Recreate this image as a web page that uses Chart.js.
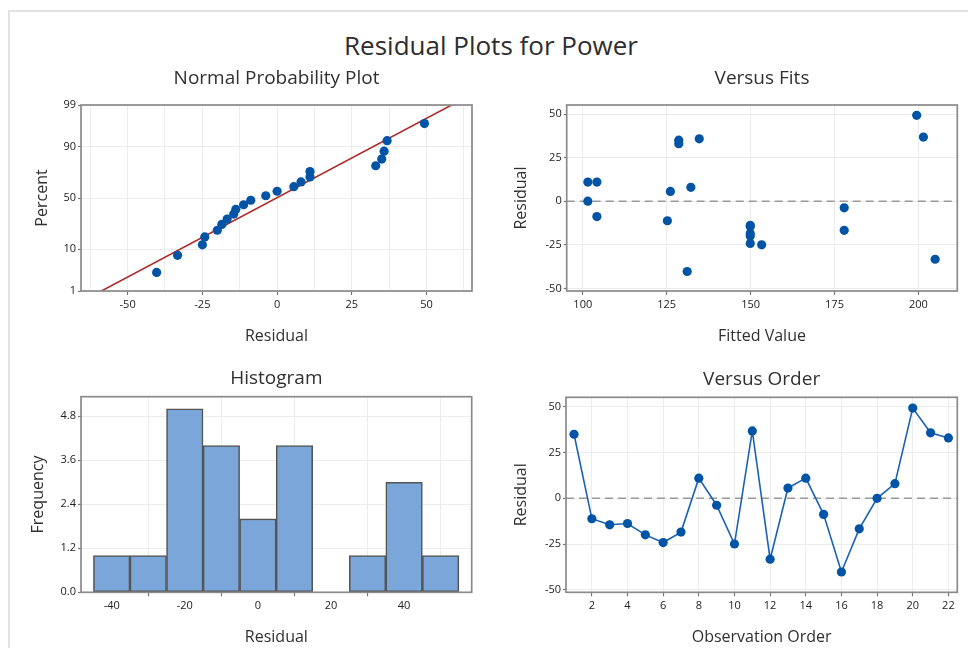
<!DOCTYPE html>
<html>
<head>
<meta charset="utf-8">
<title>Residual Plots for Power</title>
<script src="https://cdn.jsdelivr.net/npm/chart.js@4.4.1/dist/chart.umd.min.js"></script>
<style>
  html, body { margin: 0; padding: 0; background: #fff; }
  body { width: 968px; height: 648px; position: relative; overflow: hidden; font-family: "Open Sans", "Noto Sans", sans-serif; }
  #frame { position: absolute; left: 8px; top: 10px; width: 1200px; height: 900px; border: 2px solid #e2e2e2; box-sizing: border-box; }
  #mainTitle { position: absolute; left: 0; top: 27px; width: 982px; text-align: center; font-size: 26px; line-height: 36px; color: #2e2e2e; }
  canvas { position: absolute; }
</style>
</head>
<body>
<div id="frame"></div>
<div id="mainTitle">Residual Plots for Power</div>
<canvas id="npp" width="484" height="310" style="left:0px;top:50px;width:484px;height:310px"></canvas>
<canvas id="fits" width="484" height="310" style="left:484px;top:50px;width:484px;height:310px"></canvas>
<canvas id="hist" width="484" height="298" style="left:0px;top:350px;width:484px;height:298px"></canvas>
<canvas id="order" width="484" height="298" style="left:484px;top:350px;width:484px;height:298px"></canvas>
<script>
// ---- data ----
const observationOrder = [1, 2, 3, 4, 5, 6, 7, 8, 9, 10, 11, 12, 13, 14, 15, 16, 17, 18, 19, 20, 21, 22];
const residuals = [35, -11.2, -14.5, -13.8, -20, -24.2, -18.5, 11, -3.8, -25, 36.8, -33.3, 5.6, 11, -8.8, -40.3, -16.7, 0, 8, 49.3, 35.8, 33];
const fittedValues = [128.6, 125.2, 149.9, 149.9, 149.9, 149.9, 149.9, 101.5, 177.9, 153.3, 201.5, 205, 126.1, 104.2, 104.2, 131.1, 177.9, 101.5, 132.2, 199.5, 134.7, 128.6];
const histBinCenters = [-40, -30, -20, -10, 0, 10, 20, 30, 40, 50];
const histCounts = [1, 1, 5, 4, 2, 4, 0, 1, 3, 1];
const percentTicks = [1, 10, 50, 90, 99];
const nppResidualTicks = [-62.5, -50, -37.5, -25, -12.5, 0, 12.5, 25, 37.5, 50, 62.5];
const fitsTicks = [100, 125, 150, 175, 200];
const residualTicks = [-50, -25, 0, 25, 50];
const histResidualTicks = [-40, -20, 0, 20, 40];
const frequencyTicks = [0, 1.2, 2.4, 3.6, 4.8];
const orderTicks = [2, 4, 6, 8, 10, 12, 14, 16, 18, 20, 22];

// ---- styling ----
const FONT = '"Open Sans", "Noto Sans", sans-serif';
const TEXT = '#303030';
const TICKTEXT = '#222222';
const GRID = '#ececec';
const FRAME = '#8a8a8a';
const POINT = '#0054a6';
Chart.defaults.font.family = FONT;
Chart.defaults.color = TEXT;

// inverse standard normal CDF (Acklam)
function probit(p) {
  const a = [-3.969683028665376e+01, 2.209460984245205e+02, -2.759285104469687e+02, 1.383577518672690e+02, -3.066479806614716e+01, 2.506628277459239e+00];
  const b = [-5.447609879822406e+01, 1.615858368580409e+02, -1.556989798598866e+02, 6.680131188771972e+01, -1.328068155288572e+01];
  const c = [-7.784894002430293e-03, -3.223964580411365e-01, -2.400758277161838e+00, -2.549732539343734e+00, 4.374664141464968e+00, 2.938163982698783e+00];
  const d = [7.784695709041462e-03, 3.224671290700398e-01, 2.445134137142996e+00, 3.754408661907416e+00];
  const pl = 0.02425, ph = 1 - pl;
  let q, r;
  if (p < pl) {
    q = Math.sqrt(-2 * Math.log(p));
    return (((((c[0]*q+c[1])*q+c[2])*q+c[3])*q+c[4])*q+c[5]) / ((((d[0]*q+d[1])*q+d[2])*q+d[3])*q+1);
  }
  if (p <= ph) {
    q = p - 0.5; r = q * q;
    return (((((a[0]*r+a[1])*r+a[2])*r+a[3])*r+a[4])*r+a[5])*q / (((((b[0]*r+b[1])*r+b[2])*r+b[3])*r+b[4])*r+1);
  }
  q = Math.sqrt(-2 * Math.log(1 - p));
  return -(((((c[0]*q+c[1])*q+c[2])*q+c[3])*q+c[4])*q+c[5]) / ((((d[0]*q+d[1])*q+d[2])*q+d[3])*q+1);
}

// normal probability plot positions (median ranks) and fitted normal line
const n = residuals.length;
const sortedRes = residuals.slice().sort((a, b) => a - b);
const nppPoints = sortedRes.map((r, i) => ({ x: r, y: probit((i + 1 - 0.3) / (n + 0.4)) }));
const mean = residuals.reduce((s, v) => s + v, 0) / n;
const sd = Math.sqrt(residuals.reduce((s, v) => s + (v - mean) * (v - mean), 0) / (n - 1));
const zLo = probit(percentTicks[0] / 100), zHi = probit(percentTicks[percentTicks.length - 1] / 100);
const fitLine = [{ x: mean + sd * zLo, y: zLo }, { x: mean + sd * zHi, y: zHi }];

// ---- shared plugins ----
const plotFrame = {
  id: 'plotFrame',
  afterDraw(chart) {
    const { ctx, chartArea: a } = chart;
    ctx.save();
    ctx.strokeStyle = FRAME;
    ctx.lineWidth = 1.7;
    ctx.strokeRect(a.left, a.top, a.right - a.left, a.bottom - a.top);
    ctx.restore();
  }
};
const zeroLine = {
  id: 'zeroLine',
  beforeDatasetsDraw(chart) {
    const { ctx, chartArea: a, scales } = chart;
    const y = scales.y.getPixelForValue(0);
    ctx.save();
    ctx.strokeStyle = '#9a9a9a';
    ctx.lineWidth = 1.6;
    ctx.setLineDash([8, 5]);
    ctx.beginPath();
    ctx.moveTo(a.left, y);
    ctx.lineTo(a.right, y);
    ctx.stroke();
    ctx.restore();
  }
};

function fixedTicks(values) {
  return scale => { scale.ticks = values.map(v => ({ value: v })); };
}

function axis(opts) {
  // opts: min, max, ticks, label, size (fixed width/height), titlePad, isY, fmt, major
  const major = opts.major || (() => true);
  return {
    type: 'linear',
    min: opts.min,
    max: opts.max,
    offset: false,
    afterBuildTicks: fixedTicks(opts.ticks),
    afterFit: s => { if (opts.isY) s.width = opts.size; else s.height = opts.size; },
    border: { display: false },
    grid: {
      color: GRID,
      lineWidth: 1,
      drawTicks: true,
      tickLength: opts.isY ? 3 : 4,
      tickWidth: 1.2,
      tickColor: ctx => (ctx.tick && major(ctx.tick.value)) ? '#777' : 'rgba(0,0,0,0)'
    },
    ticks: {
      autoSkip: false,
      maxRotation: 0,
      padding: opts.isY ? 2 : 3,
      color: TICKTEXT,
      font: { size: 11 },
      callback: (v, i) => opts.fmt ? opts.fmt(v, i) : (major(v) ? String(v) : '')
    },
    title: {
      display: true,
      text: opts.label,
      color: TEXT,
      font: { size: 16, lineHeight: 1.2 },
      padding: opts.isY ? { top: opts.titlePad, bottom: 0 } : { top: 0, bottom: opts.titlePad }
    }
  };
}

function panelTitle(text, top, bottom) {
  return {
    display: true,
    text,
    fullSize: false,
    color: TEXT,
    font: { size: 19, weight: 'normal', lineHeight: 1.2 },
    padding: { top, bottom }
  };
}

const common = {
  responsive: false,
  animation: false,
  events: []
};

// ---- Normal Probability Plot ----
new Chart(document.getElementById('npp'), {
  type: 'scatter',
  data: {
    datasets: [
      { type: 'line', data: fitLine, borderColor: '#b02828', borderWidth: 1.5, pointRadius: 0, fill: false, order: 2 },
      { data: nppPoints, backgroundColor: POINT, borderColor: POINT, pointRadius: 4.6, borderWidth: 0, order: 1 }
    ]
  },
  options: Object.assign({}, common, {
    layout: { padding: { left: 0, right: 12, top: 0, bottom: 0 } },
    plugins: { legend: { display: false }, tooltip: { enabled: false }, title: panelTitle('Normal Probability Plot', 17.6, 14.6) },
    scales: {
      x: axis({ min: -65.6, max: 65.2, ticks: nppResidualTicks, label: 'Residual', size: 69, titlePad: 13.9, major: v => v % 25 === 0 }),
      y: axis({ min: zLo, max: zHi, ticks: percentTicks.map(p => probit(p / 100)), label: 'Percent', size: 81, titlePad: 32.4, isY: true,
        fmt: (v, i) => String(percentTicks[i]) })
    }
  }),
  plugins: [plotFrame]
});

// ---- Versus Fits ----
new Chart(document.getElementById('fits'), {
  type: 'scatter',
  data: {
    datasets: [
      { data: fittedValues.map((f, i) => ({ x: f, y: residuals[i] })), backgroundColor: POINT, borderColor: POINT, pointRadius: 4.6, borderWidth: 0 }
    ]
  },
  options: Object.assign({}, common, {
    layout: { padding: { left: 0, right: 10.7, top: 0, bottom: 0 } },
    plugins: { legend: { display: false }, tooltip: { enabled: false }, title: panelTitle('Versus Fits', 17.6, 14.6) },
    scales: {
      x: axis({ min: 95.2, max: 211.6, ticks: fitsTicks, label: 'Fitted Value', size: 69, titlePad: 13.9 }),
      y: axis({ min: -51.5, max: 55.2, ticks: residualTicks, label: 'Residual', size: 82.7, titlePad: 27.4, isY: true })
    }
  }),
  plugins: [zeroLine, plotFrame]
});

// ---- Histogram ----
new Chart(document.getElementById('hist'), {
  type: 'bar',
  data: {
    datasets: [
      {
        data: histBinCenters.map((x, i) => ({ x, y: histCounts[i] })),
        backgroundColor: '#7ba6da',
        borderColor: '#555555',
        borderWidth: 1.6,
        borderSkipped: false,
        barPercentage: 1,
        categoryPercentage: 1
      }
    ]
  },
  options: Object.assign({}, common, {
    layout: { padding: { left: 0, right: 12.3, top: 0, bottom: 0 } },
    plugins: { legend: { display: false }, tooltip: { enabled: false }, title: panelTitle('Histogram', 17.6, 6.3) },
    scales: {
      x: axis({ min: -48.4, max: 58.5, ticks: histResidualTicks, label: 'Residual', size: 55.7, titlePad: 0.9 }),
      y: axis({ min: 0, max: 5.33, ticks: frequencyTicks, label: 'Frequency', size: 81, titlePad: 28.4, isY: true, fmt: v => v.toFixed(1) })
    }
  }),
  plugins: [plotFrame]
});

// ---- Versus Order ----
new Chart(document.getElementById('order'), {
  type: 'line',
  data: {
    datasets: [
      {
        data: observationOrder.map((o, i) => ({ x: o, y: residuals[i] })),
        borderColor: '#1a62b5',
        borderWidth: 1.6,
        backgroundColor: POINT,
        pointBackgroundColor: POINT,
        pointBorderWidth: 0,
        pointRadius: 4.6,
        tension: 0,
        fill: false
      }
    ]
  },
  options: Object.assign({}, common, {
    layout: { padding: { left: 0, right: 10.7, top: 0, bottom: 0 } },
    plugins: { legend: { display: false }, tooltip: { enabled: false }, title: panelTitle('Versus Order', 18.6, 5.9) },
    scales: {
      x: axis({ min: 0.55, max: 22.5, ticks: orderTicks, label: 'Observation Order', size: 55.7, titlePad: 0.9 }),
      y: axis({ min: -51.4, max: 55.2, ticks: residualTicks, label: 'Residual', size: 82, titlePad: 27.4, isY: true })
    }
  }),
  plugins: [zeroLine, plotFrame]
});
</script>
</body>
</html>
